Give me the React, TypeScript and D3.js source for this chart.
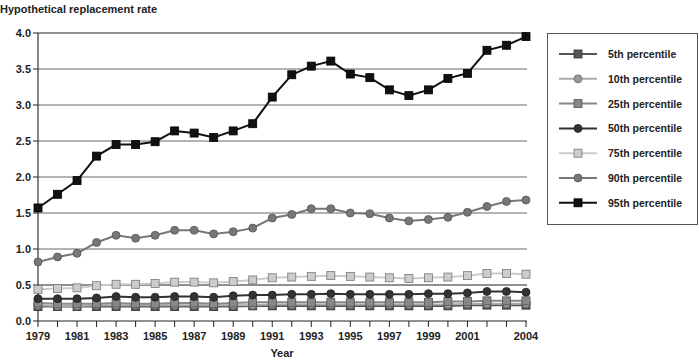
import React from "react";
import * as d3 from "d3";

const years = d3.range(1979, 2005);
const p5 = [0.2, 0.2, 0.2, 0.2, 0.2, 0.2, 0.2, 0.2, 0.2, 0.2, 0.2, 0.21, 0.21, 0.21, 0.21, 0.21, 0.21, 0.21, 0.21, 0.21, 0.21, 0.21, 0.22, 0.22, 0.22, 0.22];
const p10 = [0.22, 0.21, 0.21, 0.22, 0.22, 0.22, 0.22, 0.22, 0.22, 0.22, 0.22, 0.22, 0.23, 0.23, 0.23, 0.23, 0.23, 0.23, 0.23, 0.23, 0.23, 0.23, 0.24, 0.24, 0.24, 0.24];
const p25 = [0.25, 0.24, 0.24, 0.24, 0.25, 0.24, 0.24, 0.25, 0.25, 0.24, 0.25, 0.26, 0.26, 0.26, 0.26, 0.26, 0.26, 0.26, 0.26, 0.26, 0.26, 0.27, 0.27, 0.28, 0.28, 0.28];
const p50 = [0.31, 0.31, 0.31, 0.32, 0.34, 0.33, 0.33, 0.34, 0.34, 0.33, 0.35, 0.36, 0.36, 0.37, 0.37, 0.38, 0.37, 0.37, 0.37, 0.37, 0.38, 0.38, 0.39, 0.41, 0.41, 0.4];
const p75 = [0.44, 0.45, 0.46, 0.49, 0.51, 0.51, 0.52, 0.54, 0.54, 0.53, 0.55, 0.57, 0.6, 0.61, 0.62, 0.63, 0.62, 0.61, 0.6, 0.59, 0.6, 0.61, 0.63, 0.66, 0.66, 0.65];
const p90 = [0.82, 0.89, 0.94, 1.09, 1.19, 1.15, 1.19, 1.26, 1.26, 1.21, 1.24, 1.29, 1.43, 1.48, 1.56, 1.56, 1.5, 1.49, 1.43, 1.39, 1.41, 1.44, 1.51, 1.59, 1.66, 1.68];
const p95 = [1.57, 1.76, 1.95, 2.29, 2.45, 2.45, 2.49, 2.64, 2.61, 2.55, 2.64, 2.74, 3.11, 3.42, 3.54, 3.61, 3.43, 3.38, 3.21, 3.13, 3.21, 3.37, 3.44, 3.76, 3.83, 3.95];
const yTicks = [0, 0.5, 1, 1.5, 2, 2.5, 3, 3.5, 4];
const xLabels = [1979, 1981, 1983, 1985, 1987, 1989, 1991, 1993, 1995, 1997, 1999, 2001, 2004];

const series = [
  { name: "5th percentile", values: p5, line: "#555", fill: "#555", stroke: "#333", shape: "square" },
  { name: "10th percentile", values: p10, line: "#aaa", fill: "#999", stroke: "#666", shape: "circle" },
  { name: "25th percentile", values: p25, line: "#888", fill: "#888", stroke: "#555", shape: "square" },
  { name: "50th percentile", values: p50, line: "#333", fill: "#333", stroke: "#222", shape: "circle" },
  { name: "75th percentile", values: p75, line: "#ccc", fill: "#ccc", stroke: "#777", shape: "square" },
  { name: "90th percentile", values: p90, line: "#777", fill: "#777", stroke: "#555", shape: "circle" },
  { name: "95th percentile", values: p95, line: "#111", fill: "#111", stroke: "#000", shape: "square" },
];

const x = d3.scaleLinear().domain([1979, 2004]).range([38, 526]);
const y = d3.scaleLinear().domain([0, 4]).range([321, 33]);

function Marker({ cx, cy, s }: { cx: number; cy: number; s: any }) {
  if (s.shape === "circle")
    return <circle cx={cx} cy={cy} r={4} fill={s.fill} stroke={s.stroke} strokeWidth={0.8} />;
  return <rect x={cx - 4} y={cy - 4} width={8} height={8} fill={s.fill} stroke={s.stroke} strokeWidth={0.8} />;
}

export default function App() {
  const line = d3.line<number>().x((_, i) => x(years[i])).y((v) => y(v));
  const font = "'Liberation Sans', Arial, sans-serif";
  return (
    <svg width={699} height={361} style={{ position: "absolute", left: 0, top: 0, background: "#fff" }} fontFamily={font}>
      <text x={0} y={13} fontSize={11} fontWeight="bold" fill="#222">Hypothetical replacement rate</text>
      {yTicks.map((t) => (
        <g key={t}>
          {t > 0 && <line x1={38} x2={527} y1={y(t)} y2={y(t)} stroke={t === 4 || t === 0.5 ? "#222" : "#666"} strokeWidth={1} />}
          <line x1={33} x2={38} y1={y(t)} y2={y(t)} stroke="#222" />
          <text x={31} y={y(t) + 4} fontSize={11} fontWeight="bold" textAnchor="end" fill="#222">{t.toFixed(1)}</text>
        </g>
      ))}
      <line x1={38} x2={38} y1={33} y2={321} stroke="#333" strokeWidth={1.2} />
      <line x1={38} x2={527} y1={321} y2={321} stroke="#222" />
      {years.map((yr) => (
        <line key={yr} x1={x(yr)} x2={x(yr)} y1={321} y2={327} stroke="#222" />
      ))}
      {xLabels.map((yr) => (
        <text key={yr} x={x(yr)} y={340} fontSize={11} fontWeight="bold" textAnchor="middle" fill="#222">{yr}</text>
      ))}
      <text x={282} y={357} fontSize={11} fontWeight="bold" textAnchor="middle" fill="#222">Year</text>
      {series.map((s) => (
        <g key={s.name}>
          <path d={line(s.values) || ""} fill="none" stroke={s.line} strokeWidth={2} />
          {s.values.map((v, i) => (
            <Marker key={i} cx={x(years[i])} cy={y(v)} s={s} />
          ))}
        </g>
      ))}
      <rect x={547.5} y={33.5} width={150} height={191} fill="#fff" stroke="#555" strokeWidth={1} />
      {series.map((s, i) => {
        const ly = 54 + i * 24.8;
        return (
          <g key={s.name}>
            <line x1={559} x2={597} y1={ly} y2={ly} stroke={s.line} strokeWidth={2} />
            <Marker cx={578} cy={ly} s={s} />
            <text x={608} y={ly + 4} fontSize={10.5} fontWeight="bold" fill="#222">{s.name}</text>
          </g>
        );
      })}
    </svg>
  );
}
